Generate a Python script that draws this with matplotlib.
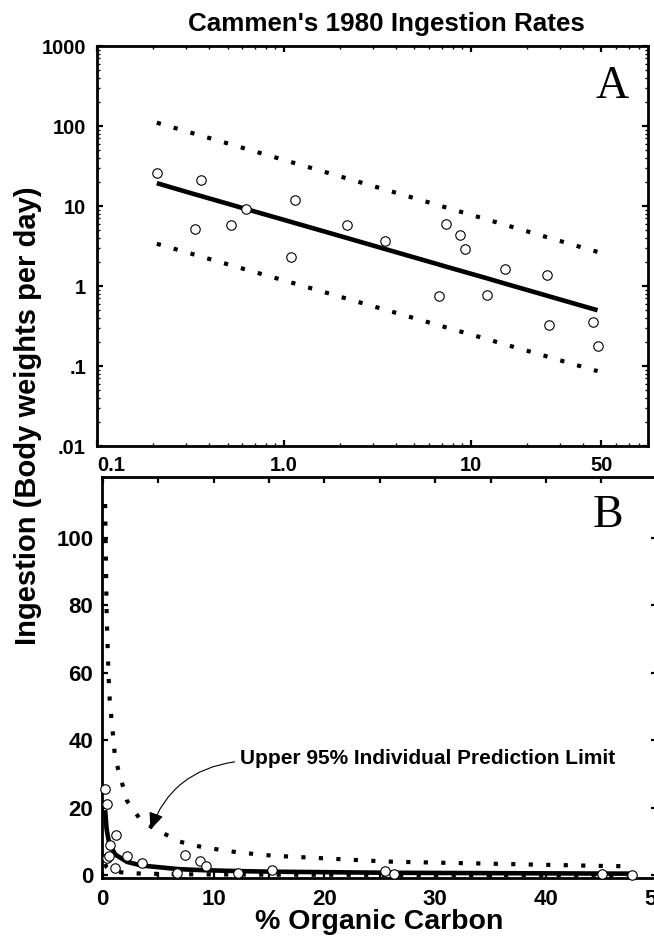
import matplotlib
matplotlib.use("Agg")
import matplotlib.pyplot as plt
import matplotlib.ticker as mticker

# Cammen (1980) data, % organic carbon vs ingestion (body weights per day)
organic_c = [0.209, 0.334, 0.361, 0.521, 0.624, 1.09, 1.15, 2.18, 3.50, 6.74,
             7.42, 8.75, 9.28, 12.2, 15.3, 25.5, 26.3, 45.1, 47.8]
ingestion = [25.6, 5.1, 21.1, 5.79, 9.1, 2.29, 11.9, 5.79, 3.62, 0.743,
             6.0, 4.38, 2.87, 0.765, 1.62, 1.37, 0.323, 0.352, 0.18]

# regression line and 95% individual prediction limits, read at the data x values
fit_line = [19.3, 14.0, 13.3, 10.4, 9.2, 6.34, 6.11, 3.98, 2.89, 1.86,
            1.74, 1.56, 1.50, 1.25, 1.07, 0.759, 0.743, 0.517, 0.498]
upper_pi = [110, 79.8, 75.7, 58.9, 52.0, 35.5, 34.2, 22.1, 16.0, 10.2,
            9.55, 8.53, 8.19, 6.79, 5.81, 4.09, 4.01, 2.77, 2.67]
lower_pi = [3.37, 2.46, 2.33, 1.82, 1.61, 1.11, 1.07, 0.693, 0.504, 0.323,
            0.303, 0.271, 0.261, 0.217, 0.186, 0.132, 0.129, 0.0897, 0.0863]

log_xticks = [0.1, 1, 10, 50]
log_xlabels = ["0.1", "1.0", "10", "50"]
log_yticks = [0.01, 0.1, 1, 10, 100, 1000]
log_ylabels = [".01", ".1", "1", "10", "100", "1000"]
lin_xticks = [0, 10, 20, 30, 40, 50]
lin_yticks = [0, 20, 40, 60, 80, 100]

SANS = ["Liberation Sans", "DejaVu Sans"]
SERIF = ["Liberation Serif", "DejaVu Serif"]
plt.rcParams["font.family"] = SANS
plt.rcParams["font.weight"] = "bold"

W, H = 654, 941
fig = plt.figure(figsize=(W / 100, H / 100), dpi=100)

# panel positions in pixels: left, top, right, bottom
ax_a = fig.add_axes([97 / W, 1 - 446 / H, (648 - 97) / W, (446 - 46) / H])
ax_b = fig.add_axes([101.7 / W, 1 - 878 / H, (656.7 - 101.7) / W, (878 - 477) / H])

line_kw = dict(color="black", lw=3.3, solid_capstyle="butt")
dot_kw = dict(color="black", lw=3.0, linestyle=(0, (1, 3.2)))
mark_kw = dict(linestyle="none", marker="o", ms=6.8, mfc="white",
               mec="black", mew=0.8, clip_on=False, zorder=4)

for ax in (ax_a, ax_b):
    ax.plot(organic_c, upper_pi, **dot_kw)
    ax.plot(organic_c, lower_pi, **dot_kw)
    ax.plot(organic_c, fit_line, **line_kw)
    ax.plot(organic_c, ingestion, **mark_kw)
    for s in ax.spines.values():
        s.set_linewidth(2.0)
    ax.tick_params(which="both", direction="in", top=True, right=True)
    ax.tick_params(which="major", length=4.5, width=1.6)
    ax.tick_params(which="minor", length=2.2, width=1.0)

# panel A, log-log
ax_a.set_xscale("log")
ax_a.set_yscale("log")
ax_a.set_xlim(0.1, 89)
ax_a.set_ylim(0.01, 1000)
ax_a.set_xticks(log_xticks)
ax_a.set_xticklabels(log_xlabels)
ax_a.set_yticks(log_yticks)
ax_a.set_yticklabels(log_ylabels)
ax_a.xaxis.set_minor_locator(mticker.LogLocator(base=10, subs=range(2, 10), numticks=20))
ax_a.yaxis.set_minor_locator(mticker.LogLocator(base=10, subs=range(2, 10), numticks=20))
ax_a.xaxis.set_minor_formatter(mticker.NullFormatter())
ax_a.yaxis.set_minor_formatter(mticker.NullFormatter())
ax_a.tick_params(axis="x", labelsize=14.5, pad=7)
ax_a.tick_params(axis="y", labelsize=14.5, pad=8)
ax_a.get_xticklabels()[0].set_horizontalalignment("left")
ax_a.text(0.965, 0.87, "A", transform=ax_a.transAxes, ha="right", va="baseline",
          fontsize=33, family=SERIF, fontweight="normal")

# panel B, linear
ax_b.set_xlim(-0.1, 50)
ax_b.set_ylim(-0.8, 118)
ax_b.set_xticks(lin_xticks)
ax_b.set_yticks(lin_yticks)
ax_b.xaxis.set_minor_locator(mticker.MultipleLocator(5))
ax_b.tick_params(axis="x", which="minor", length=4.5, width=1.6)
ax_b.tick_params(axis="both", labelsize=16)
ax_b.tick_params(axis="x", pad=8)
ax_b.tick_params(axis="y", pad=6)
ax_b.text(0.94, 0.875, "B", transform=ax_b.transAxes, ha="right", va="baseline",
          fontsize=33, family=SERIF, fontweight="normal")
ax_b.text(12.4, 34.7, "Upper 95% Individual Prediction Limit", ha="left",
          va="center", fontsize=15, fontweight="bold")
ax_b.annotate("", xy=(4.3, 13.5), xytext=(11.9, 33.6),
              arrowprops=dict(arrowstyle="-|>,head_length=0.75,head_width=0.32",
                              mutation_scale=14, color="black", lw=0.8,
                              shrinkA=0, shrinkB=0,
                              connectionstyle="arc3,rad=0.3"))
ax_b.set_xlabel("% Organic Carbon", fontsize=20.5, fontweight="bold", labelpad=-1)

fig.text(386 / W, 1 - 23.5 / H, "Cammen's 1980 Ingestion Rates", ha="center",
         va="center", fontsize=18.7, fontweight="bold")
fig.text(28 / W, 1 - 416 / H, "Ingestion (Body weights per day)", rotation=90,
         ha="center", va="center", fontsize=21, fontweight="bold")

fig.savefig("out.png", dpi=100)
